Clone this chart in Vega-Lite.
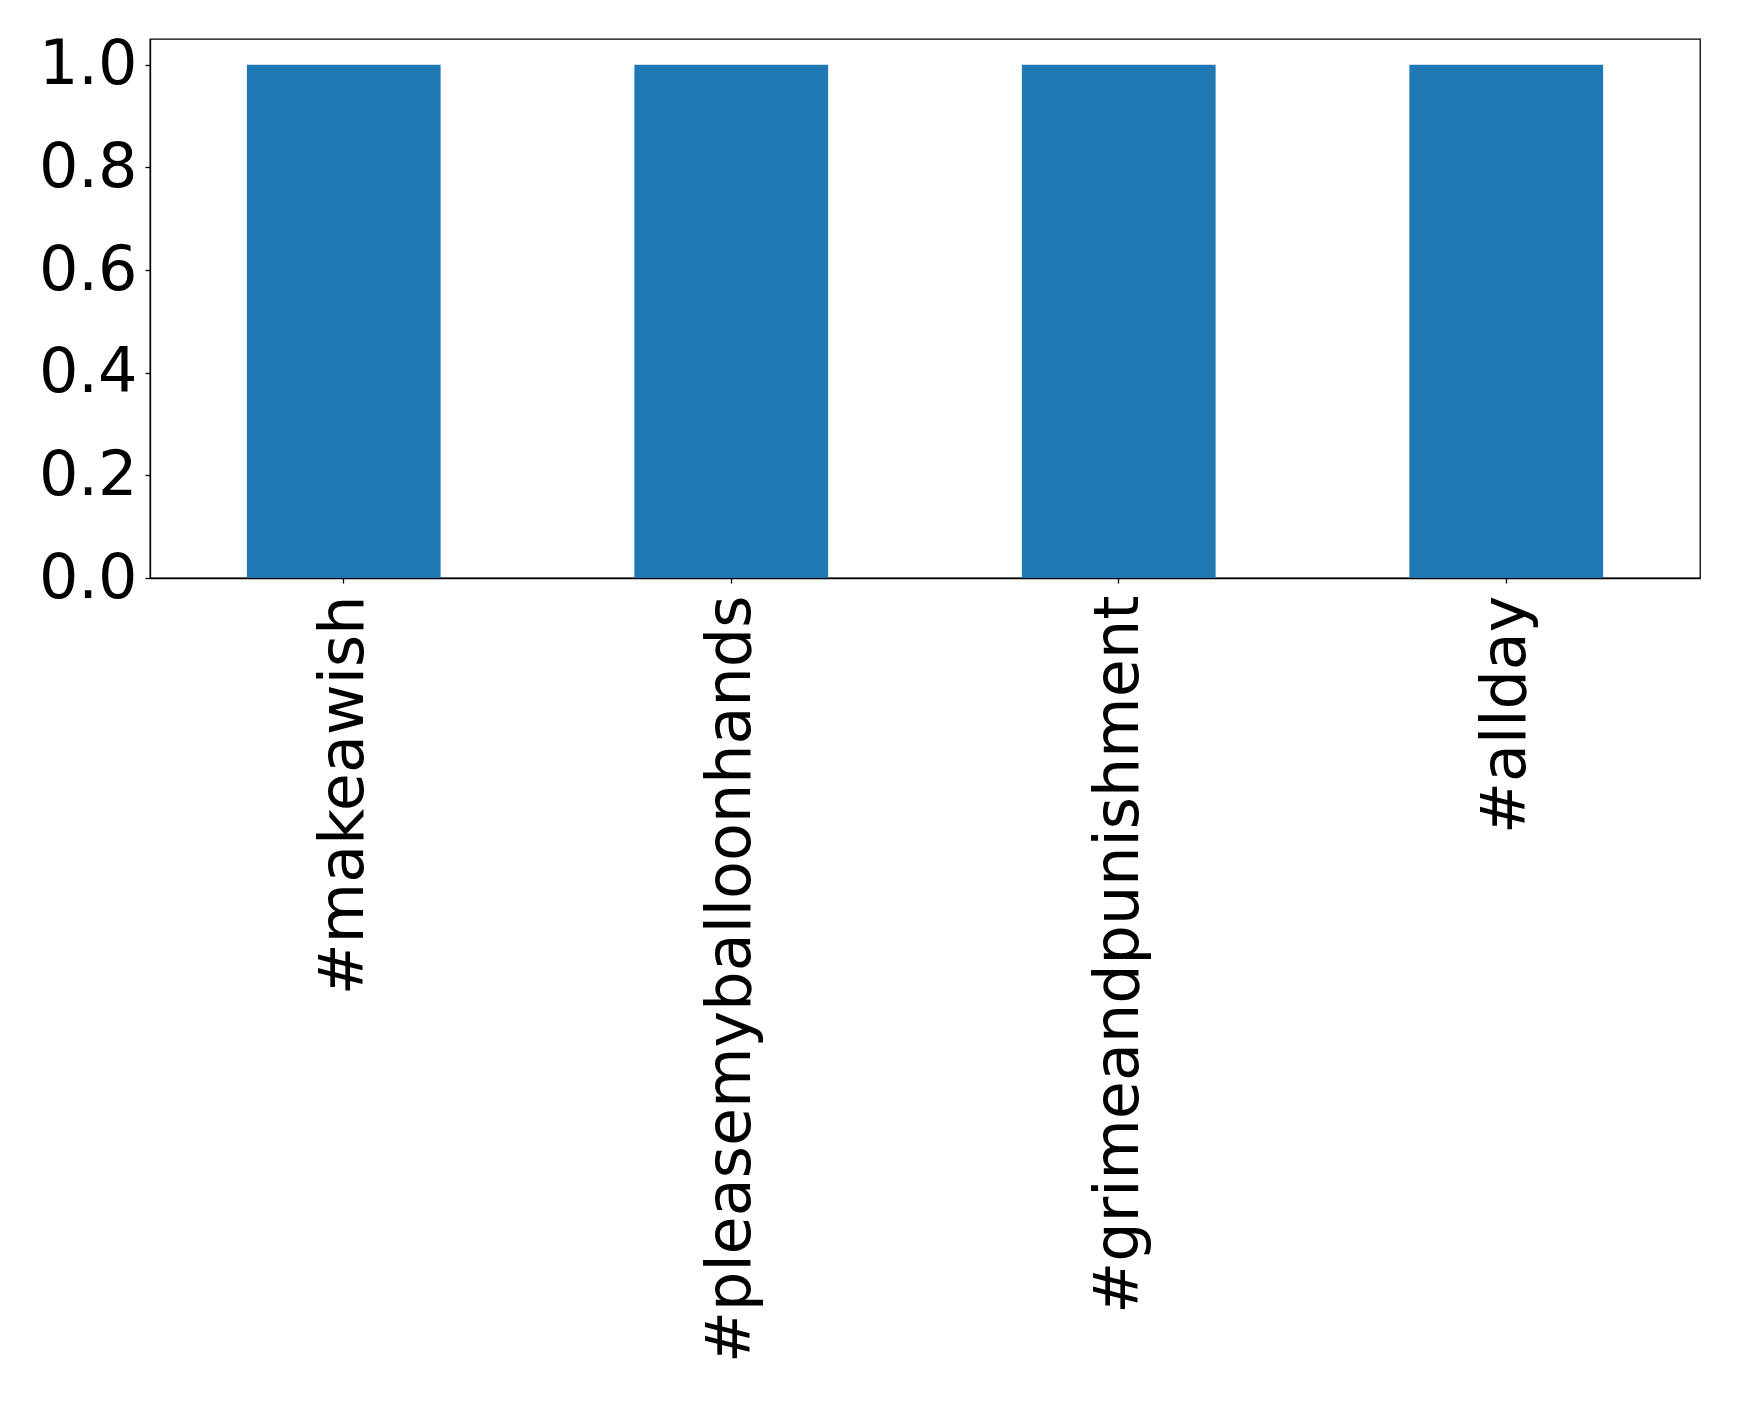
{
  "$schema": "https://vega.github.io/schema/vega-lite/v6.json",
  "autosize": "none",
  "width": 1550,
  "height": 539,
  "padding": {"left": 150, "top": 39, "right": 39, "bottom": 823},
  "background": "white",
  "config": {
    "font": "DejaVu Sans",
    "view": {"stroke": "black", "strokeWidth": 1.3},
    "axis": {"grid": false, "domainColor": "black", "tickColor": "black", "labelColor": "black", "titleColor": "black", "domainWidth": 1.3, "tickWidth": 1.3}
  },
  "data": {"values": [
    {"tag": "#makeawish", "value": 1},
    {"tag": "#pleasemyballoonhands", "value": 1},
    {"tag": "#grimeandpunishment", "value": 1},
    {"tag": "#allday", "value": 1}
  ]},
  "mark": {"type": "bar", "color": "#1f77b4"},
  "encoding": {
    "x": {
      "field": "tag", "type": "nominal", "sort": null,
      "scale": {"paddingInner": 0.5, "paddingOuter": 0.25},
      "axis": {"title": null, "labelAngle": -90, "labelFontSize": 62, "labelPadding": 12, "tickSize": 5, "labelAlign": "right", "labelBaseline": "middle", "labelLimit": 0, "labelOverlap": false}
    },
    "y": {
      "field": "value", "type": "quantitative",
      "scale": {"domain": [0, 1.05], "nice": false},
      "axis": {"title": null, "values": [0, 0.2, 0.4, 0.6, 0.8, 1.0], "format": ".1f", "labelFontSize": 62, "labelPadding": 8, "tickSize": 5}
    }
  }
}
